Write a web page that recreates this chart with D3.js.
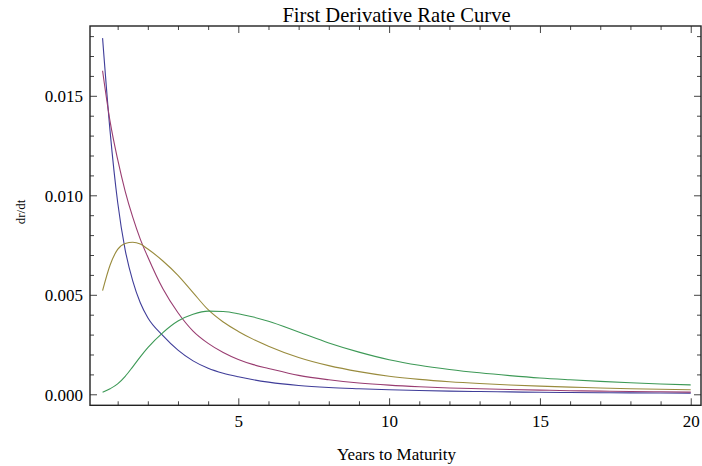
<!DOCTYPE html>
<html>
<head>
<meta charset="utf-8">
<script src="https://cdn.jsdelivr.net/npm/d3@7"></script>
<style>
  html, body { margin: 0; padding: 0; background: #fff; }
  svg { display: block; }
  svg text { font-family: "Liberation Serif", "Times New Roman", serif; fill: #000; }
</style>
</head>
<body>
<svg id="chart" width="702" height="466"></svg>
<script>
// Years to maturity at which each curve is sampled
const maturities = [0.5, 0.75, 1, 1.25, 1.5, 1.75, 2, 2.5, 3, 3.5, 4, 4.5, 5, 5.5,
  6, 7, 8, 9, 10, 11, 12, 13, 14, 15, 16, 17, 18, 19, 20];

// dr/dt for each of the four curves
const curveBlue = [0.0179, 0.0132, 0.00965, 0.00725, 0.0057, 0.0046, 0.00385, 0.00295, 0.00222, 0.00168, 0.00131, 0.00106, 0.00088, 0.00073,
  0.00061, 0.00044, 0.00034, 0.00028, 0.00023, 0.00019, 0.00016, 0.00014, 0.00012, 0.0001, 0.00009, 0.00008, 0.00007, 0.000065, 0.00006];
const curveMagenta = [0.01626, 0.0137, 0.0118, 0.0102, 0.0089, 0.0078, 0.0069, 0.0053, 0.0041, 0.00318, 0.00256, 0.0021, 0.00175, 0.00149,
  0.0013, 0.00095, 0.00073, 0.00057, 0.00046, 0.00038, 0.00032, 0.00028, 0.00024, 0.00021, 0.00018, 0.00016, 0.00014, 0.000125, 0.00011];
const curveOlive = [0.00521, 0.0065, 0.00728, 0.00758, 0.00764, 0.00755, 0.0073, 0.0067, 0.00598, 0.00511, 0.00425, 0.00363, 0.00316, 0.00276,
  0.00242, 0.00185, 0.00144, 0.00114, 0.00091, 0.00075, 0.00063, 0.00054, 0.00047, 0.00041, 0.00036, 0.00032, 0.00028, 0.00025, 0.00023];
const curveGreen = [0.0001, 0.00028, 0.00052, 0.0009, 0.00138, 0.00188, 0.00234, 0.0031, 0.00368, 0.00402, 0.00418, 0.00416, 0.00405, 0.00388,
  0.00367, 0.00313, 0.00258, 0.00212, 0.00174, 0.00146, 0.00125, 0.00108, 0.00094, 0.00082, 0.00073, 0.00065, 0.00058, 0.00052, 0.00047];

const seriesList = [curveBlue, curveMagenta, curveOlive, curveGreen];
const seriesColors = ["#3f3d99", "#993d71", "#998b3d", "#3d9956"];

// Tick values and labels
const xMajorTicks = [5, 10, 15, 20];
const xTickLabels = ["5", "10", "15", "20"];
const xMinorTicks = [1, 2, 3, 4, 6, 7, 8, 9, 11, 12, 13, 14, 16, 17, 18, 19];
const yMajorTicks = [0, 0.005, 0.010, 0.015];
const yTickLabels = ["0.000", "0.005", "0.010", "0.015"];
const yMinorTicks = [0.001, 0.002, 0.003, 0.004, 0.006, 0.007, 0.008, 0.009, 0.011, 0.012, 0.013, 0.014, 0.016, 0.017, 0.018];

const titleText = "First Derivative Rate Curve";
const xTitle = "Years to Maturity";
const yTitle = "dr/dt";

const serif = '"Liberation Serif", "Times New Roman", serif';

const svg = d3.select("#chart");
const plot = { left: 90, right: 701, top: 26, bottom: 405.3 };

const x = d3.scaleLinear().domain([0.083, 20.34]).range([plot.left, plot.right]);
const y = d3.scaleLinear().domain([-0.000553, 0.018508]).range([plot.bottom, plot.top]);

// Curves
const line = d3.line()
  .x(d => x(d[0]))
  .y(d => y(d[1]))
  .curve(d3.curveMonotoneX);

svg.append("g")
  .selectAll("path")
  .data(seriesList)
  .join("path")
  .attr("d", vals => line(maturities.map((t, i) => [t, vals[i]])))
  .attr("fill", "none")
  .attr("stroke", (d, i) => seriesColors[i])
  .attr("stroke-width", 1.1);

// Axes: ticks pointing inward on all four sides
const major = 7, minor = 4;
const tickColor = "#444";

function addAxis(axisGen, transform) {
  const g = svg.append("g").attr("transform", transform).call(axisGen);
  g.attr("font-family", null).attr("font-size", null);
  g.select(".domain").remove();
  g.selectAll(".tick line").attr("stroke", tickColor).attr("stroke-width", 1);
  g.selectAll("text").style("font-family", serif).style("font-size", "17px");
  return g;
}

// bottom
addAxis(d3.axisBottom(x).tickValues(xMinorTicks).tickSize(-minor).tickFormat(""),
  `translate(0,${plot.bottom})`);
const xb = addAxis(d3.axisBottom(x).tickValues(xMajorTicks).tickSize(-major)
  .tickFormat((d, i) => xTickLabels[i]).tickPadding(0), `translate(0,${plot.bottom})`);
xb.selectAll("text").attr("y", 21.7).attr("dy", 0);

// top
addAxis(d3.axisTop(x).tickValues(xMinorTicks).tickSize(-minor).tickFormat(""),
  `translate(0,${plot.top})`);
addAxis(d3.axisTop(x).tickValues(xMajorTicks).tickSize(-major).tickFormat(""),
  `translate(0,${plot.top})`);

// left
addAxis(d3.axisLeft(y).tickValues(yMinorTicks).tickSize(-minor).tickFormat(""),
  `translate(${plot.left},0)`);
const yl = addAxis(d3.axisLeft(y).tickValues(yMajorTicks).tickSize(-major)
  .tickFormat((d, i) => yTickLabels[i]).tickPadding(0), `translate(${plot.left},0)`);
yl.selectAll("text").attr("x", -7).attr("dy", "0.34em");

// right
addAxis(d3.axisRight(y).tickValues(yMinorTicks).tickSize(-minor).tickFormat(""),
  `translate(${plot.right},0)`);
addAxis(d3.axisRight(y).tickValues(yMajorTicks).tickSize(-major).tickFormat(""),
  `translate(${plot.right},0)`);

// Frame
svg.append("rect")
  .attr("x", plot.left).attr("y", plot.top)
  .attr("width", plot.right - plot.left).attr("height", plot.bottom - plot.top)
  .attr("fill", "none").attr("stroke", "#222").attr("stroke-width", 1.4);

// Titles
svg.append("text")
  .attr("x", (plot.left + plot.right) / 2 + 1).attr("y", 21.7)
  .attr("text-anchor", "middle")
  .style("font-family", serif)
  .style("font-size", "20.6px")
  .text(titleText);

svg.append("text")
  .attr("x", (plot.left + plot.right) / 2 + 1).attr("y", 460)
  .attr("text-anchor", "middle")
  .style("font-family", serif)
  .style("font-size", "17px")
  .text(xTitle);

svg.append("text")
  .attr("transform", "translate(25,212) rotate(-90)")
  .attr("text-anchor", "middle")
  .style("font-family", serif)
  .style("font-size", "13px")
  .text(yTitle);
</script>
</body>
</html>
